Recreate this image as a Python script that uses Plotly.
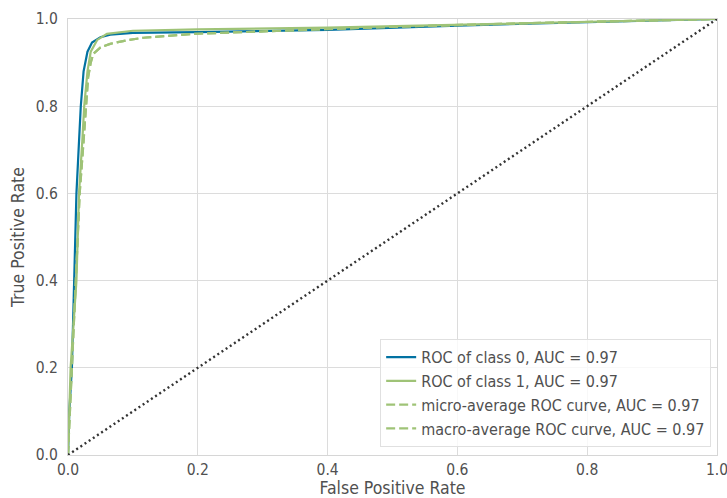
import plotly.graph_objects as go

# ROC data
fpr_class0 = [0.0, 0.002, 0.006, 0.009, 0.013, 0.017, 0.0197, 0.024, 0.03, 0.037, 0.05, 0.065, 0.1, 0.2, 0.3, 0.4, 0.6, 0.8, 1.0]
tpr_class0 = [0.0, 0.1, 0.2, 0.4, 0.6, 0.72, 0.8, 0.88, 0.925, 0.946, 0.958, 0.964, 0.968, 0.97, 0.972, 0.975, 0.985, 0.992, 1.0]

fpr_class1 = [0.0, 0.002, 0.004, 0.013, 0.017, 0.022, 0.025, 0.03, 0.035, 0.045, 0.06, 0.1, 0.2, 0.4, 0.7, 1.0]
tpr_class1 = [0.0, 0.1, 0.2, 0.4, 0.6, 0.72, 0.8, 0.88, 0.925, 0.952, 0.966, 0.973, 0.976, 0.98, 0.99, 1.0]

fpr_micro = [0.0, 0.003, 0.007, 0.013, 0.018, 0.024, 0.028, 0.031, 0.035, 0.039, 0.05, 0.065, 0.09, 0.116, 0.194, 0.3, 0.5, 0.7, 1.0]
tpr_micro = [0.0, 0.1, 0.2, 0.4, 0.6, 0.72, 0.8, 0.866, 0.9, 0.92, 0.935, 0.943, 0.951, 0.957, 0.966, 0.972, 0.982, 0.99, 1.0]

fpr_macro = fpr_micro
tpr_macro = tpr_micro

diag = [0.0, 1.0]
ticks = [0.0, 0.2, 0.4, 0.6, 0.8, 1.0]
tick_text = ["0.0", "0.2", "0.4", "0.6", "0.8", "1.0"]

BLUE = "#0272a2"
GREEN = "#9fc377"
FONT = "DejaVu Sans Condensed, DejaVu Sans"
TXT = "#505050"

fig = go.Figure()
fig.add_trace(go.Scatter(x=fpr_class0, y=tpr_class0, mode="lines", name="ROC of class 0, AUC = 0.97",
                         line=dict(color=BLUE, width=2.2)))
fig.add_trace(go.Scatter(x=fpr_class1, y=tpr_class1, mode="lines", name="ROC of class 1, AUC = 0.97",
                         line=dict(color=GREEN, width=2.2)))
fig.add_trace(go.Scatter(x=fpr_micro, y=tpr_micro, mode="lines", name="micro-average ROC curve, AUC = 0.97",
                         line=dict(color=GREEN, width=2.2, dash="9px,4px")))
fig.add_trace(go.Scatter(x=fpr_macro, y=tpr_macro, mode="lines", name="macro-average ROC curve, AUC = 0.97",
                         line=dict(color=GREEN, width=2.2, dash="9px,4px")))
fig.add_trace(go.Scatter(x=diag, y=diag, mode="lines", showlegend=False,
                         line=dict(color="#333333", width=2.4, dash="2px,3px")))

axis_common = dict(
    range=[0, 1], tickvals=ticks, ticktext=tick_text, automargin=False,
    ticklabeloverflow="allow",
    showgrid=True, gridcolor="#dcdcdc", gridwidth=1,
    zeroline=False, showline=True, linecolor="#d6d6d6", linewidth=1, mirror=True,
    ticks="", tickfont=dict(family=FONT, size=15.5, color=TXT),
)

fig.update_layout(
    width=727, height=498,
    margin=dict(l=68, r=10, t=19, b=43),
    paper_bgcolor="white", plot_bgcolor="white",
    font=dict(family=FONT, size=15, color=TXT),
    xaxis=dict(**axis_common, title=dict(text="False Positive Rate", standoff=4,
                                         font=dict(family=FONT, size=17.5, color=TXT))),
    yaxis=dict(**axis_common, ticklabelstandoff=6,
               title=dict(text="True Positive Rate", standoff=6,
                          font=dict(family=FONT, size=17.5, color=TXT))),
    legend=dict(x=0.991, y=0.018, xanchor="right", yanchor="bottom",
                bgcolor="rgba(255,255,255,0.8)", bordercolor="#e0e0e0", borderwidth=1,
                font=dict(family=FONT, size=16, color=TXT),
                itemwidth=30, tracegroupgap=0),
)

fig.write_html("out.html")
